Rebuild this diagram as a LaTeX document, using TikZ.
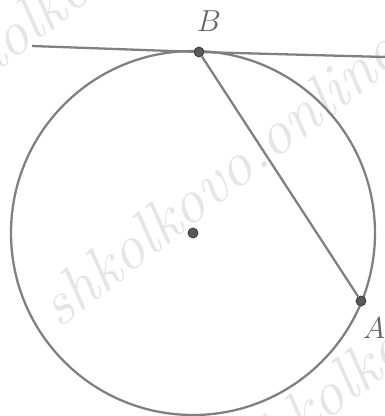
\documentclass[tikz,border=0pt]{standalone}
\begin{document}
\begin{tikzpicture}[x=0.02cm,y=-0.02cm]
\tikzset{
  pt/.style={circle,fill=black!65,draw=black!80,inner sep=0pt,minimum size=0.2cm},
  lbl/.style={text=black!60,font=\fontsize{18}{20}\selectfont},
  wm/.style={text=black!10,font=\fontsize{36}{38}\selectfont\itshape,rotate=38}
}
\useasboundingbox (0,0) rectangle (385,416);

% watermark
\node[wm] (W1) at (30,20) {shkolkovo};
\node[wm] (W2) at (218,178) {shkolkovo.online};
\node[wm] (W3) at (345,380) {shkolkovo};

\coordinate (O) at (193,233);
\coordinate (L) at (32,46);
\coordinate (R) at (385,57);
\draw[black!50,line width=1.3pt] (O) circle (182);

\node[pt](B) at (199,52){};
\node[pt](A) at (361,301){};
\node[pt](C) at (193,233){};

\draw[black!50,line width=1.3pt](L)--(B);
\draw[black!50,line width=1.3pt](B)--(R);
\draw[black!50,line width=1.3pt](B)--(A);

\node[lbl](LB) at (209,21){$B$};
\node[lbl](LA) at (374,328){$A$};
\end{tikzpicture}
\end{document}
